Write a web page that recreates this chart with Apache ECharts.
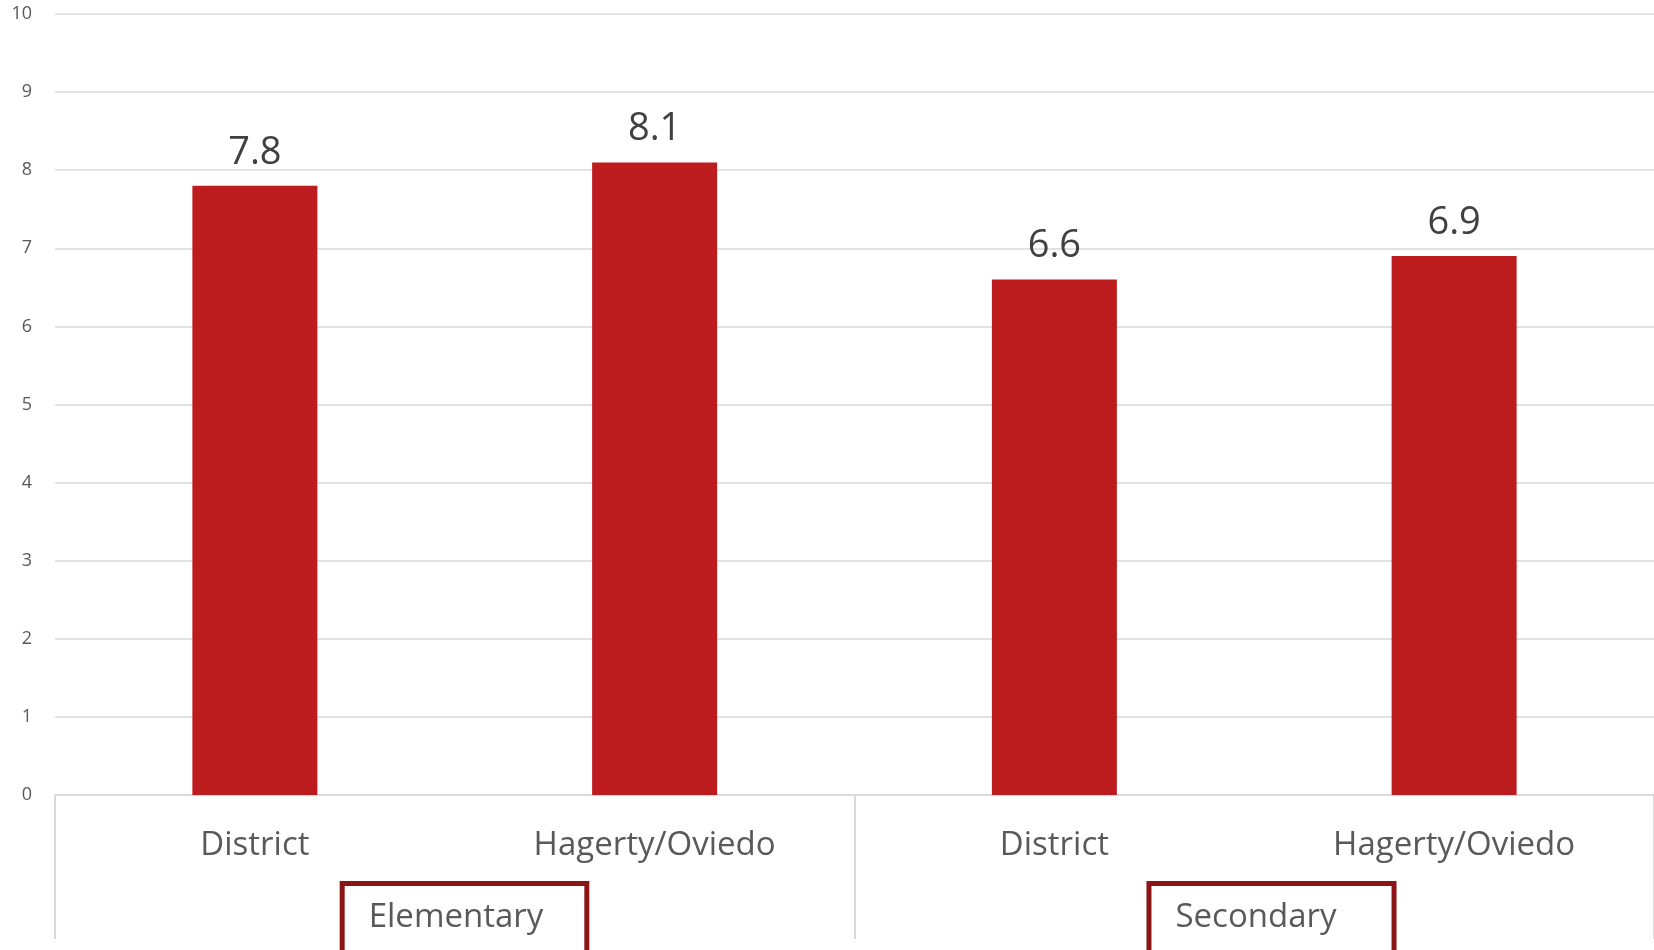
<!DOCTYPE html>
<html>
<head>
<meta charset="utf-8">
<script src="https://cdn.jsdelivr.net/npm/echarts@6/dist/echarts.min.js"></script>
<style>
html,body{margin:0;padding:0;background:#fff;}
#c{width:1654px;height:950px;}
</style>
</head>
<body>
<div id="c"></div>
<script>
const categories = ['District', 'Hagerty/Oviedo', 'District', 'Hagerty/Oviedo'];
const groups = ['Elementary', 'Secondary'];
const values = [7.8, 8.1, 6.6, 6.9];
const yTicks = [0, 1, 2, 3, 4, 5, 6, 7, 8, 9, 10];

const FONT = '"Open Sans", "DejaVu Sans", sans-serif';
const boxBase = {
  fontFamily: FONT, fontSize: 33, lineHeight: 34, color: '#595959',
  borderColor: '#8b1515', borderWidth: 5, backgroundColor: '#ffffff'
};
const chart = echarts.init(document.getElementById('c'));
chart.setOption({
  animation: false,
  backgroundColor: '#ffffff',
  grid: [
    { left: 55, right: 0, top: 14, bottom: 155, outerBoundsMode: 'none', containLabel: false },
    { left: 61, width: 1614, top: 14, bottom: 155, outerBoundsMode: 'none', containLabel: false }
  ],
  xAxis: [
    {
      type: 'category', gridIndex: 0, data: categories, position: 'bottom',
      axisLine: { show: true, lineStyle: { color: '#d9d9d9', width: 2 } },
      axisTick: { show: false },
      axisLabel: { interval: 0, margin: 34, fontFamily: FONT, fontSize: 33, lineHeight: 34, color: '#595959' }
    },
    {
      type: 'category', gridIndex: 0, data: groups, position: 'bottom',
      axisLine: { show: false },
      axisTick: { show: true, length: 144, interval: 0, lineStyle: { color: '#d9d9d9', width: 2 } },
      axisLabel: { show: false }
    },
    {
      type: 'category', gridIndex: 1, data: groups, position: 'bottom',
      axisLine: { show: false },
      axisTick: { show: false },
      axisLabel: {
        interval: 0, margin: 107, hideOverlap: false,
        formatter: function (v, i) { return '{g' + i + '|' + v + '}'; },
        rich: {
          g0: Object.assign({}, boxBase, { padding: [15, 41, 18, 24] }),
          g1: Object.assign({}, boxBase, { padding: [15, 55, 18, 24] })
        }
      }
    }
  ],
  yAxis: [
    {
      type: 'value', gridIndex: 0, min: 0, max: 10, interval: 1,
      axisLine: { show: false }, axisTick: { show: false },
      splitLine: { show: true, lineStyle: { color: '#d9d9d9', width: 1.5 } },
      axisLabel: {
        margin: 23, fontFamily: FONT, fontSize: 18, color: '#595959',
        formatter: function (v) { return yTicks.indexOf(v) >= 0 ? String(v) : ''; }
      }
    },
    { type: 'value', gridIndex: 1, min: 0, max: 10, show: false }
  ],
  series: [
    {
      type: 'bar', xAxisIndex: 0, yAxisIndex: 0, data: values, barWidth: 125,
      itemStyle: { color: '#bd1c1e' },
      label: {
        show: true, position: 'top', distance: 14,
        fontFamily: FONT, fontSize: 38, color: '#404040',
        formatter: function (p) { return p.value.toFixed(1); }
      }
    }
  ]
});
</script>
</body>
</html>
